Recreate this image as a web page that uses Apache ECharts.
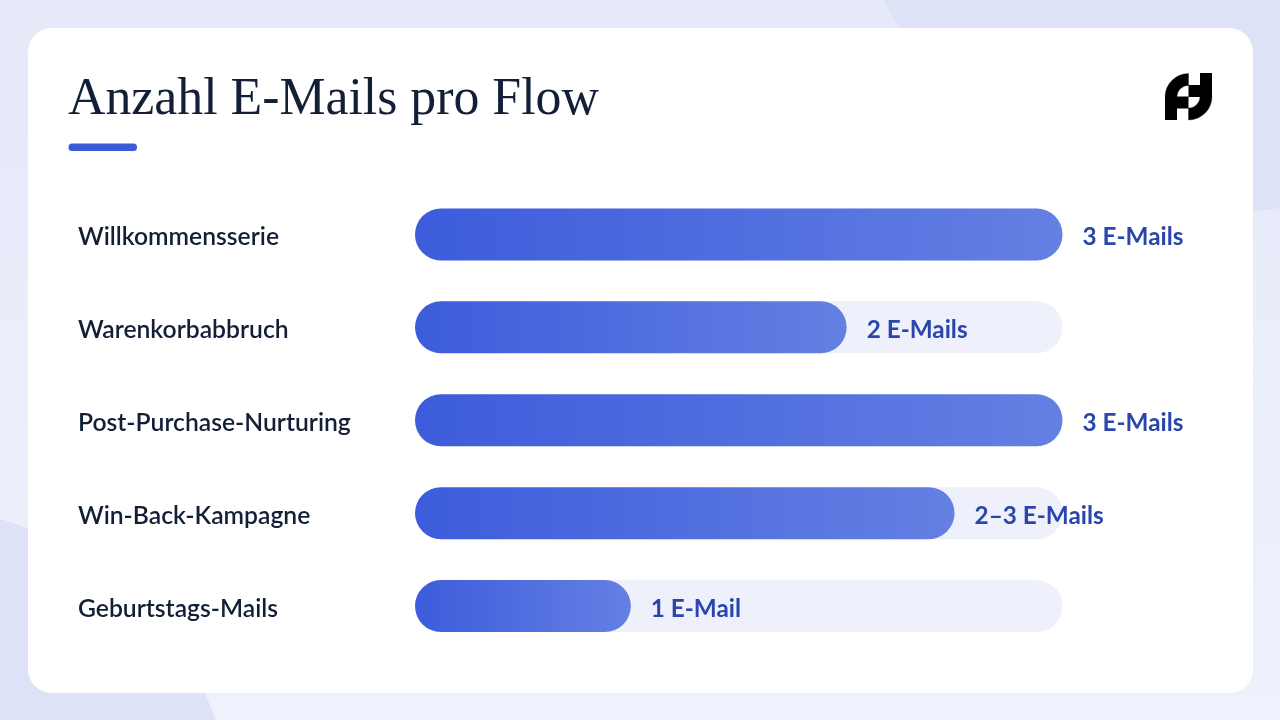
<!DOCTYPE html>
<html><head><meta charset="utf-8">
<style>html,body{margin:0;padding:0;background:#e6eaf9}#c{width:1280px;height:720px}</style>
<script src="https://cdn.jsdelivr.net/npm/echarts@6/dist/echarts.min.js"></script>
</head><body><div id="c"></div>
<script>
const titleText = 'Anzahl E-Mails pro Flow';
const categories = ['Willkommensserie','Warenkorbabbruch','Post-Purchase-Nurturing','Win-Back-Kampagne','Geburtstags-Mails'];
const values = [3,2,3,2.5,1];
const valueLabels = ['3 E-Mails','2 E-Mails','3 E-Mails','2–3 E-Mails','1 E-Mail'];
const axisMax = 3;
const track = categories.map(() => axisMax);
const uiFont = '"Lato","Open Sans",sans-serif';

const chart = echarts.init(document.getElementById('c'), null, {renderer:'canvas'});
chart.setOption({
  animation:false,
  backgroundColor:new echarts.graphic.LinearGradient(0,0,0,1,[{offset:0,color:'#e5e9f8'},{offset:1,color:'#eff1fc'}]),
  graphic:[
    {type:'polygon',z:-10,silent:true,shape:{points:[[883,0],[1280,0],[1280,208],[1253,212],[900,28]]},style:{fill:'#dde2f6'}},
    {type:'polygon',z:-9,silent:true,shape:{points:[[0,519],[28,528],[205,693],[216,720],[0,720]]},style:{fill:'#dde2f6'}},
    {type:'rect',z:-5,silent:true,shape:{x:28,y:28,width:1225,height:665,r:24},style:{fill:'#ffffff'}},
    {type:'text',z:5,silent:true,x:68,y:74,style:{text:titleText,fill:'#131f36',font:'400 51.8px "Liberation Serif","DejaVu Serif",serif'}},
    {type:'rect',z:5,silent:true,shape:{x:68.5,y:143.5,width:68.5,height:7.5,r:3.5},style:{fill:'#3c5bd8'}},
    {type:'sector',z:5,silent:true,shape:{cx:1188.5,cy:97,r:23.5,r0:11.5,startAngle:Math.PI,endAngle:Math.PI*1.5},style:{fill:'#000',stroke:'#000',lineWidth:0.3}},
    {type:'rect',z:5,silent:true,shape:{x:1165,y:96.5,width:12,height:23.5},style:{fill:'#000'}},
    {type:'rect',z:5,silent:true,shape:{x:1176.5,y:96.5,width:12,height:12},style:{fill:'#000'}},
    {type:'sector',z:5,silent:true,shape:{cx:1188.5,cy:96.5,r:23.5,r0:11.5,startAngle:0,endAngle:Math.PI*0.5},style:{fill:'#000',stroke:'#000',lineWidth:0.3}},
    {type:'rect',z:5,silent:true,shape:{x:1200,y:73,width:12,height:24},style:{fill:'#000'}},
    {type:'rect',z:5,silent:true,shape:{x:1188.5,y:85,width:12,height:12},style:{fill:'#000'}}
  ],
  grid:{left:415,top:188,width:647.5,height:464.5},
  xAxis:{type:'value',min:0,max:axisMax,show:false},
  yAxis:{type:'category',inverse:true,data:categories,
    axisLine:{show:false},axisTick:{show:false},splitLine:{show:false},
    axisLabel:{show:true,margin:337,align:'left',verticalAlign:'top',lineHeight:6,color:'#131f36',fontFamily:uiFont,fontSize:24.7,fontWeight:600}},
  series:[
    {type:'bar',data:track,barWidth:52,barGap:'-100%',silent:true,z:1,
      itemStyle:{color:'#eef0fb',borderRadius:26},label:{show:false}},
    {type:'bar',data:values,barWidth:52,barGap:'-100%',silent:true,z:2,
      itemStyle:{borderRadius:26,color:new echarts.graphic.LinearGradient(0,0,1,0,[{offset:0,color:'#3d5cdb'},{offset:1,color:'#6480e3'}])},
      label:{show:true,position:'right',distance:20,offset:[0,3],color:'#2a45ac',fontFamily:uiFont,fontSize:24.3,fontWeight:700,
        formatter:p=>valueLabels[p.dataIndex]}}
  ]
});
</script></body></html>
